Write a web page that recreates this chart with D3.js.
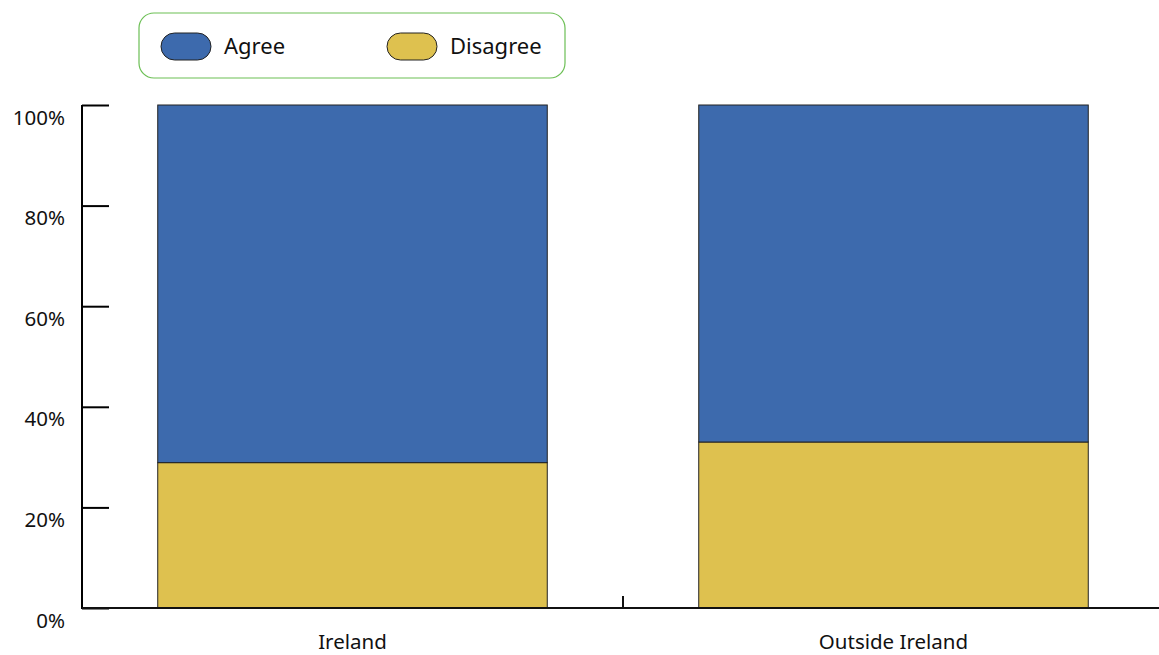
<!DOCTYPE html>
<html>
<head>
<meta charset="utf-8">
<script src="https://cdn.jsdelivr.net/npm/d3@7"></script>
<style>
  html, body { margin: 0; padding: 0; background: #fff; }
  svg { display: block; font-family: "Noto Sans", "Open Sans", sans-serif; }
</style>
</head>
<body>
<svg id="chart" width="1159" height="655"></svg>
<script>
const categories = ["Ireland", "Outside Ireland"];
const seriesNames = ["Disagree", "Agree"];
const disagree = [28.9, 33.0];
const agree = [71.1, 67.0];
const yTicks = [0, 20, 40, 60, 80, 100];
const legendItems = ["Agree", "Disagree"];
const colors = { Agree: "#3d6aad", Disagree: "#dec14f" };

const svg = d3.select("#chart");
const W = 1159, H = 655;
const margin = { left: 82, right: -5, top: 105, bottom: 47 };

const x = d3.scaleBand().domain(categories).range([margin.left, W - margin.right]).padding(0);
const y = d3.scaleLinear().domain([0, 100]).range([H - margin.bottom, margin.top]);

const rows = categories.map((c, i) => ({ cat: c, Disagree: disagree[i], Agree: agree[i] }));
const stack = d3.stack().keys(seriesNames)(rows);

const barInset = x.step() * 0.14;
const barW = x.step() * 0.72;

svg.append("g").selectAll("g").data(stack).join("g")
  .attr("fill", d => colors[d.key])
  .selectAll("rect").data(d => d).join("rect")
  .attr("x", d => x(d.data.cat) + barInset)
  .attr("width", barW)
  .attr("y", d => y(d[1]))
  .attr("height", d => y(d[0]) - y(d[1]))
  .attr("stroke", "#222")
  .attr("stroke-width", 1);

// Y axis
const yAxis = d3.axisRight(y).tickValues(yTicks).tickSize(27).tickFormat(d => d + "%");
const gy = svg.append("g").attr("transform", `translate(${margin.left},0)`).call(yAxis);
gy.select(".domain").remove();
gy.selectAll(".tick line").attr("stroke", "#000").attr("stroke-width", 2);
gy.selectAll(".tick text")
  .attr("x", -17).attr("dy", "0.35em").attr("y", 12)
  .attr("text-anchor", "end")
  .attr("font-size", 20.5).attr("fill", "#111")
  .style("font-family", "'Noto Sans', sans-serif");
svg.append("line")
  .attr("x1", margin.left).attr("x2", margin.left)
  .attr("y1", y(100)).attr("y2", y(0) + 1)
  .attr("stroke", "#000").attr("stroke-width", 2);

// X axis
svg.append("line")
  .attr("x1", margin.left).attr("x2", W)
  .attr("y1", y(0)).attr("y2", y(0))
  .attr("stroke", "#111").attr("stroke-width", 2);
// boundary tick between categories
svg.append("line")
  .attr("x1", x(categories[1])).attr("x2", x(categories[1]))
  .attr("y1", y(0)).attr("y2", y(0) - 12)
  .attr("stroke", "#111").attr("stroke-width", 2);

svg.append("g").selectAll("text").data(categories).join("text")
  .attr("x", d => x(d) + x.bandwidth() / 2)
  .attr("y", 648.5)
  .attr("text-anchor", "middle")
  .attr("font-size", 20.5)
  .attr("fill", "#111")
  .text(d => d);

// Legend
const lg = svg.append("g");
lg.append("rect")
  .attr("x", 139).attr("y", 13).attr("width", 426).attr("height", 65)
  .attr("rx", 15).attr("fill", "#fff")
  .attr("stroke", "#6cbf55").attr("stroke-width", 1.2);
const legendX = [161, 387];
legendItems.forEach((k, i) => {
  lg.append("rect")
    .attr("x", legendX[i]).attr("y", 33).attr("width", 50).attr("height", 27)
    .attr("rx", 13.5).attr("fill", colors[k])
    .attr("stroke", "#222").attr("stroke-width", 1);
  lg.append("text")
    .attr("x", legendX[i] + 63).attr("y", 54)
    .attr("font-size", 22).attr("fill", "#111")
    .text(k);
});
</script>
</body>
</html>
